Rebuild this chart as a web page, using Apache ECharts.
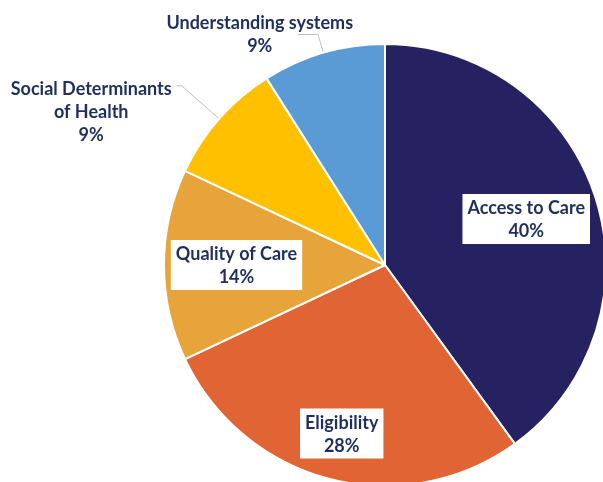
<!DOCTYPE html>
<html>
<head>
<meta charset="utf-8">
<script src="https://cdn.jsdelivr.net/npm/echarts@6/dist/echarts.min.js"></script>
<style>
html,body{margin:0;padding:0;background:#fff;}
#c{width:603px;height:482px;}
</style>
</head>
<body>
<div id="c"></div>
<script>
const categories = ['Access to Care', 'Eligibility', 'Quality of Care', 'Social Determinants\nof Health', 'Understanding systems'];
const values = [40, 28, 14, 9, 9];
const colors = ['#262262', '#E06434', '#E6A43A', '#FFC000', '#5B9BD5'];
// label placement group: 'outside', 'innerA' (mid ring), 'innerB' (outer ring)
const labelGroup = ['innerA', 'innerB', 'innerA', 'outside', 'outside'];

const FONT = 'Lato';
const TXT = '#1F2F5C';
const CENTER = [385, 265];
const R = 221;

function richLines(name, v) {
  return name.split('\n').concat([v + '%']).map(s => '{a|' + s + '}').join('\n');
}
const rich = { a: { align: 'center', fontFamily: FONT, fontWeight: 'bold', fontSize: 18, color: TXT, lineHeight: 23 } };

const mainData = categories.map((c, i) => {
  const show = labelGroup[i] === 'outside';
  const d = { name: c, value: values[i], itemStyle: { color: colors[i] }, label: { show }, labelLine: { show } };
  if (i === 3) { d.label.padding = [52, 0, 0, 0]; d.labelLine = { show, length: 50, length2: 5 }; }
  if (i === 4) { d.labelLine = { show, length: 19, length2: 20 }; }
  return d;
});
function overlay(group, r0) {
  return {
    type: 'pie', center: CENTER, radius: [r0, R], startAngle: 90, clockwise: true, silent: true,
    itemStyle: { color: 'rgba(0,0,0,0)' },
    label: { position: 'inside', backgroundColor: '#fff', padding: [3, 5, 1, 5], formatter: p => richLines(p.name, p.value), rich },
    labelLine: { show: false },
    data: categories.map((c, i) => ({ name: c, value: values[i], label: { show: labelGroup[i] === group } }))
  };
}

const chart = echarts.init(document.getElementById('c'));
chart.setOption({
  animation: false,
  series: [
    {
      type: 'pie', center: CENTER, radius: R, startAngle: 90, clockwise: true,
      avoidLabelOverlap: false,
      itemStyle: { borderColor: '#fff', borderWidth: 2 },
      label: { position: 'outside', formatter: p => richLines(p.name, p.value), rich },
      labelLine: { lineStyle: { color: '#BFBFBF', width: 1 } },
      labelLayout: p => (p.dataIndex === 4 ? { dx: 60 } : {}),
      data: mainData
    },
    overlay('innerA', 70),
    overlay('innerB', 121)
  ]
});
</script>
</body>
</html>
